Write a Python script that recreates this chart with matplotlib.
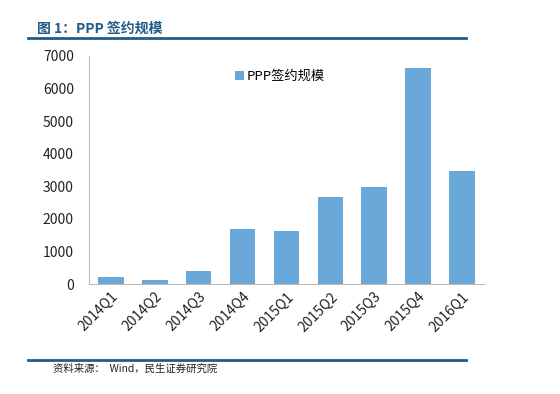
import matplotlib
matplotlib.use("Agg")
import matplotlib.pyplot as plt
import numpy as np

quarters = ['2014Q1', '2014Q2', '2014Q3', '2014Q4', '2015Q1',
            '2015Q2', '2015Q3', '2015Q4', '2016Q1']
ppp_values = [220, 120, 390, 1690, 1630, 2670, 2980, 6630, 3470]

plt.rcParams['font.family'] = ['Noto Sans CJK SC', 'DejaVu Sans']

fig = plt.figure(figsize=(5.6, 3.94), dpi=100)
ax = fig.add_axes([0.159, 0.279, 0.705, 0.579])

x = np.arange(len(quarters))
ax.bar(x, ppp_values, width=0.58, color='#6AA8DA', label='PPP签约规模')

ax.set_xlim(-0.5, len(quarters) - 0.5)
ax.set_ylim(0, 7000)
ax.set_yticks(range(0, 7001, 1000))
ax.set_xticks(x)
ax.set_xticklabels(quarters, rotation=45, ha='right', rotation_mode='anchor',
                   fontsize=10, color='#222222')
ax.tick_params(axis='y', labelsize=10, length=0, pad=11, colors='#222222')
ax.tick_params(axis='x', length=0, pad=4)

for s in ['top', 'right']:
    ax.spines[s].set_visible(False)
ax.spines['left'].set_color('#BBBBBB')
ax.spines['bottom'].set_color('#BBBBBB')

ax.legend(loc='upper left', bbox_to_anchor=(0.34, 0.99), frameon=False,
          fontsize=9.5, handlelength=0.7, handleheight=0.7, handletextpad=0.2)

# header and footer
fig.text(0.066, 0.928, '图 1：PPP 签约规模', fontsize=10, fontweight='bold',
         color='#1F5C8B', va='center')
fig.add_artist(plt.Line2D([0.05, 0.832], [0.904, 0.904], color='#1F5C8B', lw=2))
fig.add_artist(plt.Line2D([0.05, 0.832], [0.086, 0.086], color='#1F5C8B', lw=2))
fig.text(0.095, 0.063, '资料来源：  Wind，民生证券研究院', fontsize=7.5,
         color='#222222', va='center')

fig.savefig('out.png', dpi=100, facecolor='white')
